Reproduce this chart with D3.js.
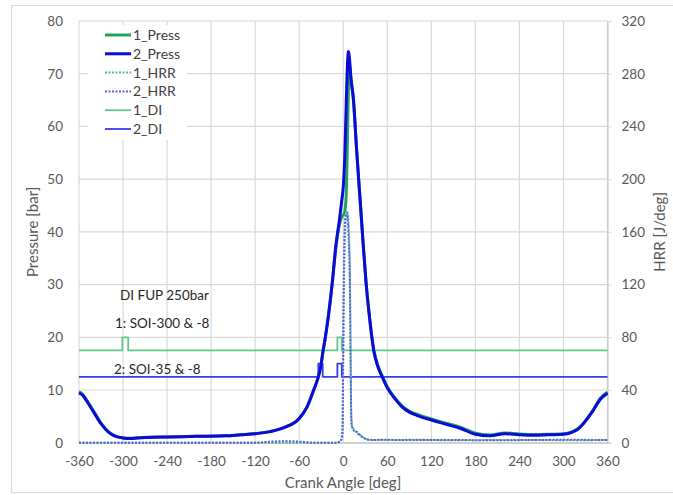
<!DOCTYPE html>
<html>
<head>
<meta charset="utf-8">
<script src="https://cdn.jsdelivr.net/npm/d3@7"></script>
<style>
  body { margin: 0; background: #fff; }
  svg text { font-family: Lato, "Open Sans", sans-serif; }
</style>
</head>
<body>
<svg id="chart" width="673" height="495"></svg>
<script>
var pressAngle = [-360, -355, -350, -340, -330, -320, -310, -300, -290, -280, -260, -240, -200, -160, -140,
    -120, -100, -80, -60, -50, -40, -35, -31, -27.5, -24.5, -20, -15, -10, -5, -2, 0, 2, 4, 6, 7, 8, 9, 10,
    14, 18, 23, 27, 31, 36, 41.5, 47, 53, 60, 70, 80, 90, 100, 120, 140, 160, 180, 200, 220, 240, 260,
    280, 300, 320, 340, 350, 360];
var press1 = [9.7, 9.2, 8.2, 6.0, 3.7, 2.1, 1.25, 0.9, 0.85, 0.95, 1.05, 1.1, 1.2, 1.3, 1.5,
    1.7, 2.1, 2.9, 4.6, 6.6, 10.1, 12.0, 14.2, 17.4, 19.9, 24.3, 30.3, 37.0, 41.5, 42.8, 43.2, 43.8, 47, 60, 67, 71, 71.5, 69.5,
    64.8, 56, 46, 38, 30.5, 23.6, 17.7, 14.7, 12.7, 10.6, 8.6, 7.0, 6.0, 5.4, 4.5, 3.7, 2.9, 1.8, 1.45, 1.85, 1.65, 1.55,
    1.6, 1.7, 2.7, 6.1, 8.4, 9.6];
var press2 = [9.4, 9.0, 8.0, 5.8, 3.6, 2.0, 1.2, 0.9, 0.8, 0.9, 1.05, 1.1, 1.2, 1.3, 1.5,
    1.7, 2.1, 2.9, 4.6, 6.6, 10.1, 12.0, 14.2, 17.4, 19.9, 24.3, 30.3, 37.5, 42.5, 46, 48.5, 54, 64, 72.5, 74.2, 73.5, 72, 70,
    65, 56, 46, 38, 30.5, 23.5, 17.5, 14.5, 12.5, 10.4, 8.4, 6.8, 5.8, 5.2, 4.3, 3.5, 2.7, 1.6, 1.3, 1.7, 1.5, 1.4,
    1.5, 1.6, 2.6, 6.0, 8.2, 9.4];

// heat release rate [J/deg], right axis
var hrrAngle = [-360, -120, -100, -80, -60, -40, -10, -4, -2, -1, 0, 1, 3, 5, 7, 9, 10, 11, 12, 15, 19, 25, 30, 37,
    50, 100, 150, 200, 250, 300, 360];
var hrr1 = [0, 0, 0, 0, 0, 0, 0, 1, 3, 8, 60, 120, 165, 176, 168, 130, 80, 20, 12, 10, 7, 5, 3, 2.2,
    2, 2.2, 1.8, 2, 2.1, 1.9, 2];
var hrr2 = [0, 0, 0.8, 1.2, 0.8, 0, 0, 1, 4, 12, 80, 135, 172, 174, 160, 120, 60, 18, 12, 9, 8, 4.6, 3, 2,
    2.2, 2, 2.1, 1.8, 2, 2.2, 2];

// direct injection signal (step after each angle)
var di1Angle = [-360, -301, -293, -8, -2, 360];
var di1Val = [17.5, 20, 17.5, 20, 17.5, 17.5];
var di2Angle = [-360, -34, -28, -8, -2, 360];
var di2Val = [12.5, 15, 12.5, 15, 12.5, 12.5];

var xTicks = [-360, -300, -240, -180, -120, -60, 0, 60, 120, 180, 240, 300, 360];
var yTicks = [0, 10, 20, 30, 40, 50, 60, 70, 80];
var y2Ticks = [0, 40, 80, 120, 160, 200, 240, 280, 320];
var legendNames = ["1_Press", "2_Press", "1_HRR", "2_HRR", "1_DI", "2_DI"];
var notes = ["DI FUP 250bar", "1: SOI-300 & -8", "2: SOI-35 & -8"];

var styles = {
    "1_Press": { color: "#22a35a", width: 3, dash: null },
    "2_Press": { color: "#0b0bd9", width: 3, dash: null },
    "1_HRR": { color: "#4fbf80", width: 2, dash: "2,1.5" },
    "2_HRR": { color: "#5a5ae6", width: 2, dash: "2,1.5" },
    "1_DI": { color: "#5ccb8c", width: 1.8, dash: null },
    "2_DI": { color: "#3a3af0", width: 1.8, dash: null }
};

var svg = d3.select("#chart");
var plotL = 79, plotR = 607.5, plotT = 21, plotB = 442.7;

var x = d3.scaleLinear().domain([-360, 360]).range([plotL, plotR]);
var y = d3.scaleLinear().domain([0, 80]).range([plotB, plotT]);
var y2 = d3.scaleLinear().domain([0, 320]).range([plotB, plotT]);

// outer frame
svg.append("rect").attr("x", 11.5).attr("y", 5.5).attr("width", 700).attr("height", 487)
    .attr("fill", "none").attr("stroke", "#d9d9d9");

// grid
svg.append("g").selectAll("line").data(yTicks).enter().append("line")
    .attr("x1", plotL).attr("x2", plotR).attr("y1", d => y(d)).attr("y2", d => y(d))
    .attr("stroke", "#d9d9d9").attr("stroke-width", 1.2);
svg.append("g").selectAll("line").data(xTicks).enter().append("line")
    .attr("y1", plotT).attr("y2", plotB).attr("x1", d => x(d)).attr("x2", d => x(d))
    .attr("stroke", "#d9d9d9").attr("stroke-width", 1.2);

// axes (plain hyphen for negatives, like the original)
var fmt = d => String(d);
var xAxis = svg.append("g").attr("transform", "translate(0," + plotB + ")")
    .call(d3.axisBottom(x).tickValues(xTicks).tickFormat(fmt).tickSize(0).tickPadding(14));
var yAxis = svg.append("g").attr("transform", "translate(" + plotL + ",0)")
    .call(d3.axisLeft(y).tickValues(yTicks).tickFormat(fmt).tickSize(0).tickPadding(16));
var y2Axis = svg.append("g").attr("transform", "translate(" + plotR + ",0)")
    .call(d3.axisRight(y2).tickValues(y2Ticks).tickFormat(fmt).tickSize(4).tickPadding(10));
[xAxis, yAxis, y2Axis].forEach(function (g) {
    g.select(".domain").attr("stroke", "#bfbfbf");
    g.selectAll(".tick line").attr("stroke", "#d9d9d9");
    g.selectAll("text").attr("fill", "#595959").style("font-size", "13.5px");
});
yAxis.select(".domain").remove();

// axis titles
svg.append("text").attr("x", 343).attr("y", 488).attr("text-anchor", "middle")
    .attr("fill", "#595959").style("font-size", "15px").text("Crank Angle [deg]");
svg.append("text").attr("transform", "translate(38," + (plotT + plotB) / 2 + ") rotate(-90)")
    .attr("text-anchor", "middle").attr("fill", "#595959").style("font-size", "15px").text("Pressure [bar]");
svg.append("text").attr("transform", "translate(665," + (plotT + plotB) / 2 + ") rotate(-90)")
    .attr("text-anchor", "middle").attr("fill", "#595959").style("font-size", "15px").text("HRR [J/deg]");

function drawLine(angles, vals, scale, name, curve) {
    var s = styles[name];
    var line = d3.line().x(d => x(d[0])).y(d => scale(d[1])).curve(curve);
    svg.append("path").datum(d3.zip(angles, vals))
        .attr("d", line).attr("fill", "none")
        .attr("stroke", s.color).attr("stroke-width", s.width)
        .attr("stroke-dasharray", s.dash)
        .attr("stroke-linejoin", "round");
}

drawLine(di1Angle, di1Val, y, "1_DI", d3.curveStepAfter);
drawLine(di2Angle, di2Val, y, "2_DI", d3.curveStepAfter);
drawLine(pressAngle, press1, y, "1_Press", d3.curveMonotoneX);
drawLine(pressAngle, press2, y, "2_Press", d3.curveMonotoneX);
drawLine(hrrAngle, hrr1, y2, "1_HRR", d3.curveMonotoneX);
drawLine(hrrAngle, hrr2, y2, "2_HRR", d3.curveMonotoneX);

// annotations
var noteX = [120, 115, 114], noteY = [295, 323, 369];
svg.append("g").selectAll("text").data(notes).enter().append("text")
    .attr("x", (d, i) => noteX[i]).attr("y", (d, i) => noteY[i]).attr("dy", "0.35em")
    .attr("fill", "#262626").style("font-size", "13.5px").text(d => d);

// legend
var legend = svg.append("g");
legend.append("rect").attr("x", 88).attr("y", 25).attr("width", 99).attr("height", 115).attr("fill", "#fff");
var rows = legend.selectAll("g").data(legendNames).enter().append("g")
    .attr("transform", (d, i) => "translate(0," + (35 + i * 18.8) + ")");
rows.append("line").attr("x1", 105).attr("x2", 131)
    .attr("stroke", d => styles[d].color).attr("stroke-width", d => styles[d].width)
    .attr("stroke-dasharray", d => styles[d].dash);
rows.append("text").attr("x", 133).attr("dy", "0.35em").attr("fill", "#404040")
    .style("font-size", "14px").text(d => d);
</script>
</body>
</html>
